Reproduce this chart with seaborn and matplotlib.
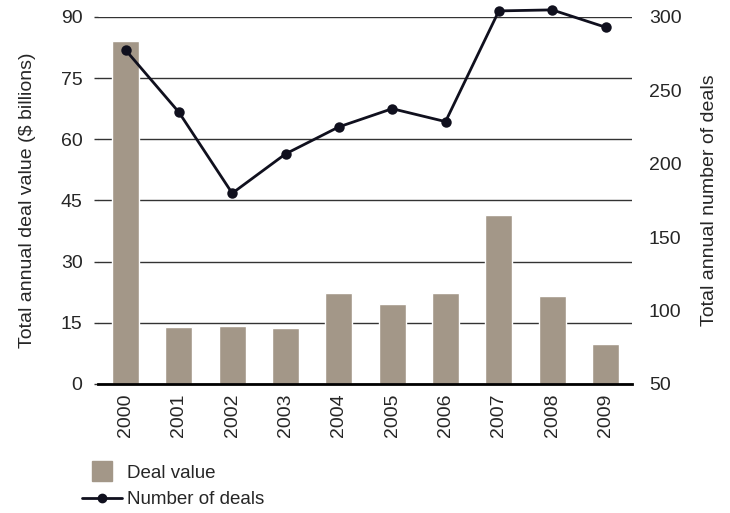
import matplotlib
matplotlib.use("Agg")
import matplotlib.pyplot as plt
from matplotlib.lines import Line2D
import seaborn as sns
import pandas as pd

years = ["2000", "2001", "2002", "2003", "2004", "2005", "2006", "2007", "2008", "2009"]
deal_value = [84.2, 13.9, 14.2, 13.7, 22.3, 19.6, 22.3, 41.4, 21.5, 9.8]
num_deals = [277.5, 235.1, 179.9, 206.7, 225.1, 237.5, 228.7, 304.1, 304.8, 293.0]

left_ticks = [0, 15, 30, 45, 60, 75, 90]
right_ticks = [50, 100, 150, 200, 250, 300]

bar_color = "#a39788"
line_color = "#10101e"

sns.set_style("white")
plt.rcParams["font.family"] = ["Liberation Sans", "DejaVu Sans"]

df = pd.DataFrame({"year": years, "value": deal_value, "deals": num_deals})

fig = plt.figure(figsize=(7.3, 5.13), dpi=100)
ax = fig.add_axes([0.134, 0.2515, 0.732, 0.7155])

sns.barplot(data=df, x="year", y="value", color=bar_color, saturation=1,
            width=0.51, ax=ax, zorder=2)
ax.set_ylim(0, 90)
ax.set_yticks(left_ticks)
ax.yaxis.grid(True, color="#333333", linewidth=1)
ax.set_axisbelow(True)
ax.set_xlabel("")
ax.set_ylabel("Total annual deal value ($ billions)", fontsize=14, labelpad=18)
ax.tick_params(axis="y", labelsize=14, length=3, width=1, color="#333333", pad=8)
ax.tick_params(axis="x", labelsize=14, length=0, pad=7, labelrotation=90)
for s in ["top", "right", "left"]:
    ax.spines[s].set_visible(False)
ax.spines["bottom"].set_color("black")
ax.spines["bottom"].set_linewidth(2)

ax2 = ax.twinx()
sns.pointplot(data=df, x="year", y="deals", color=line_color, errorbar=None,
              markers="o", markersize=6, linewidth=2, ax=ax2)
for ln in ax2.lines:
    ln.set_clip_on(False)
for c in ax2.collections:
    c.set_clip_on(False)
ax2.set_ylim(50, 300)
ax2.set_yticks(right_ticks)
ax2.set_ylabel("Total annual number of deals", fontsize=14, labelpad=14)
ax2.tick_params(axis="y", labelsize=14, length=0, pad=12)
for s in ["top", "right", "left", "bottom"]:
    ax2.spines[s].set_visible(False)
ax.set_xlim(-0.52, 9.5)
ax2.set_xlim(-0.52, 9.5)
ax2.grid(False)

handles = [
    Line2D([], [], marker="s", markersize=14, color=bar_color, linestyle="None"),
    Line2D([], [], marker="o", markersize=6, color=line_color, linewidth=2),
]
fig.legend(handles, ["Deal value", "Number of deals"], loc="upper left",
           bbox_to_anchor=(0.113, 0.094), frameon=False, fontsize=13.5,
           handlelength=2.1, handletextpad=0.27, labelspacing=0.5,
           borderaxespad=0, borderpad=0)

fig.savefig("out.png", dpi=100)
